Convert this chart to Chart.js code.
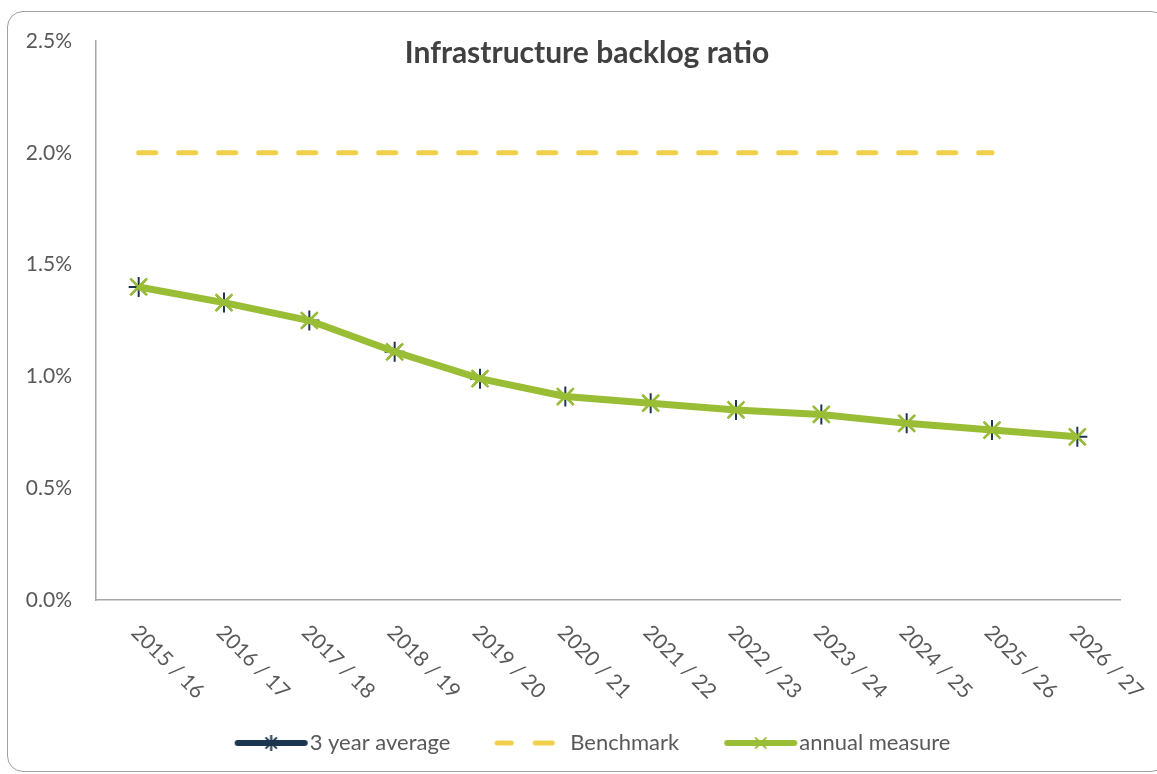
<!DOCTYPE html>
<html><head><meta charset="utf-8">
<script src="https://cdn.jsdelivr.net/npm/chart.js@4/dist/chart.umd.min.js"></script>
<style>
html,body{margin:0;padding:0;background:#fff;overflow:hidden;width:1157px;height:774px;}
#frame{position:absolute;left:7px;top:11px;width:1160px;height:761px;border:1.5px solid #a0a0a0;border-radius:16px;box-sizing:border-box;}
#wrap{position:absolute;left:0;top:0;width:1231px;height:774px;}
</style></head><body>
<div id="frame"></div>
<div id="wrap"><canvas id="c" width="1231" height="774"></canvas></div>
<script>
const chartTitle = 'Infrastructure backlog ratio';
const categories = ['2015 / 16','2016 / 17','2017 / 18','2018 / 19','2019 / 20','2020 / 21','2021 / 22','2022 / 23','2023 / 24','2024 / 25','2025 / 26','2026 / 27'];
const threeYearAverage = [1.40, 1.33, 1.25, 1.11, 0.99, 0.91, 0.88, 0.85, 0.83, 0.79, 0.76, 0.73];
const benchmark = [2.0, 2.0, 2.0, 2.0, 2.0, 2.0, 2.0, 2.0, 2.0, 2.0, 2.0, null];
const annualMeasure = [1.40, 1.33, 1.25, 1.11, 0.99, 0.91, 0.88, 0.85, 0.83, 0.79, 0.76, 0.73];
const yMin = 0, yMax = 2.5, yStep = 0.5;

const NAVY = '#1c3550', YELLOW = '#f0d04a', GREEN = '#9abd36', TEXT = '#595959', AXIS = '#a6a6a6';

function makeIcon(kind){
  const c = document.createElement('canvas');
  c.width = 75; c.height = 24;
  const g = c.getContext('2d');
  const cy = 12;
  g.lineCap = 'round';
  if (kind === 'navy' || kind === 'green') {
    g.strokeStyle = kind === 'navy' ? NAVY : GREEN;
    g.lineWidth = 6;
    g.beginPath(); g.moveTo(4, cy); g.lineTo(71, cy); g.stroke();
    g.lineWidth = 2;
    g.lineCap = 'butt';
    const r = 8, cx = 37.5, d = r * Math.SQRT1_2;
    g.beginPath();
    g.moveTo(cx - d, cy - d); g.lineTo(cx + d, cy + d);
    g.moveTo(cx - d, cy + d); g.lineTo(cx + d, cy - d);
    if (kind === 'navy') { g.moveTo(cx, cy - r); g.lineTo(cx, cy + r); }
    g.stroke();
  } else {
    g.strokeStyle = YELLOW; g.lineWidth = 5;
    g.beginPath(); g.moveTo(3, cy); g.lineTo(17, cy); g.moveTo(41, cy); g.lineTo(58, cy); g.stroke();
  }
  return c;
}
const icons = [makeIcon('navy'), makeIcon('yellow'), makeIcon('green')];

const titlePlugin = {
  id: 'customTitle',
  afterDraw(chart){
    const ctx = chart.ctx, a = chart.chartArea;
    ctx.save();
    ctx.font = 'bold 30px Lato';
    ctx.fillStyle = '#404040';
    ctx.textAlign = 'center';
    ctx.textBaseline = 'middle';
    ctx.fillText(chartTitle, (a.left + a.right) / 2 - 21, 53);
    ctx.restore();
  }
};
const xLabelPlugin = {
  id: 'rotLabels',
  afterDraw(chart){
    const s = chart.scales.x, ctx = chart.ctx;
    ctx.save();
    ctx.font = '21px Lato';
    ctx.fillStyle = TEXT;
    ctx.textAlign = 'left';
    ctx.textBaseline = 'middle';
    categories.forEach((lab, i) => {
      const x = s.getPixelForValue(i);
      ctx.save();
      ctx.translate(x - 4, s.top + 29);
      ctx.rotate(Math.PI / 4);
      ctx.fillText(lab, 0, 0);
      ctx.restore();
    });
    ctx.restore();
  }
};

new Chart(document.getElementById('c'), {
  type: 'line',
  data: {
    labels: categories,
    datasets: [
      { label: '3 year average', data: threeYearAverage, borderColor: NAVY, backgroundColor: NAVY, borderWidth: 4,
        pointStyle: 'star', pointRadius: 10, pointBorderColor: NAVY, pointBorderWidth: 2, tension: 0, order: 2 },
      { label: 'Benchmark', data: benchmark, borderColor: YELLOW, backgroundColor: YELLOW, borderWidth: 5,
        borderDash: [17, 23], borderCapStyle: 'round', pointRadius: 0, tension: 0, order: 1 },
      { label: 'annual measure', data: annualMeasure, borderColor: GREEN, backgroundColor: GREEN, borderWidth: 7,
        pointStyle: 'crossRot', pointRadius: 12, pointBorderColor: GREEN, pointBorderWidth: 2.5, tension: 0, order: 0 }
    ]
  },
  options: {
    responsive: false,
    animation: false,
    devicePixelRatio: 1,
    layout: { padding: { top: 41, left: 0, right: 37, bottom: 10 } },
    plugins: {
      title: { display: false },
      tooltip: { enabled: false },
      legend: {
        position: 'bottom',
        labels: {
          usePointStyle: true,
          pointStyleWidth: 55,
          padding: 54,
          font: { family: 'Lato', size: 22 },
          color: TEXT,
          generateLabels(chart){
            return chart.data.datasets.map((ds, i) => ({
              text: ds.label, pointStyle: icons[i], fillStyle: 'rgba(0,0,0,0)', strokeStyle: 'rgba(0,0,0,0)',
              lineWidth: 0, hidden: false, datasetIndex: i, fontColor: TEXT
            }));
          }
        }
      }
    },
    scales: {
      x: {
        type: 'category', offset: true,
        grid: { display: false, drawTicks: false },
        border: { display: true, color: AXIS, width: 1.5 },
        ticks: { display: false },
        afterFit(s){ s.height = 78; }
      },
      y: {
        position: 'left',
        min: yMin, max: yMax,
        grid: { display: false, drawTicks: false },
        border: { display: true, color: AXIS, width: 1.5 },
        ticks: { stepSize: yStep, padding: 24, color: TEXT, font: { family: 'Lato', size: 21 },
          callback: v => Number(v).toFixed(1) + '%' },
        afterFit(s){ s.width = 96; }
      },
      spacer: {
        type: 'linear', position: 'right', display: true,
        grid: { display: false, drawTicks: false },
        border: { display: false },
        ticks: { display: false },
        afterFit(s){ s.width = 74; }
      }
    }
  },
  plugins: [titlePlugin, xLabelPlugin]
});
</script>
</body></html>
